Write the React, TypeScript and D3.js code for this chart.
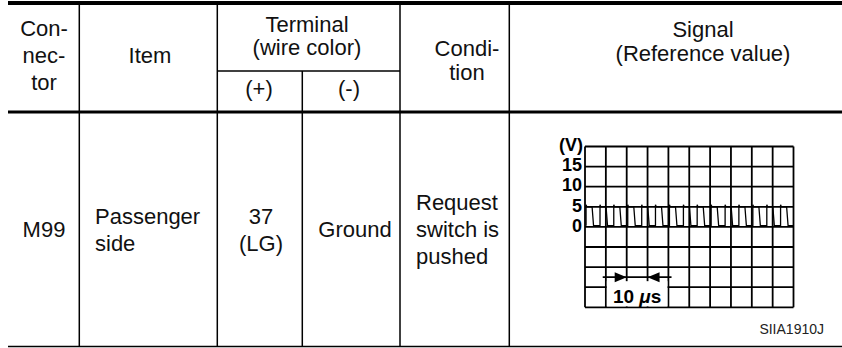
import React from 'react';
import * as d3 from 'd3';

// header texts
const connectorHead = ['Con-', 'nec-', 'tor'];
const itemHead = ['Item'];
const terminalHead = ['Terminal', '(wire color)'];
const plusMinusHead = ['(+)', '(-)'];
const conditionHead = ['Condi-', 'tion'];
const signalHead = ['Signal', '(Reference value)'];

// body row
const connector = ['M99'];
const item = ['Passenger', 'side'];
const terminalPlus = ['37', '(LG)'];
const terminalMinus = ['Ground'];
const condition = ['Request', 'switch is', 'pushed'];

// oscilloscope
const voltTicks = ['15', '10', '5', '0'];
const voltValues = [15, 10, 5, 0];
const timePerDiv = 10; // µs
// rising edge of each pulse (µs)
const pulseStarts = [0.5, 7.2, 13.8, 20.5, 27.2, 33.8, 40.5, 47.2, 53.8, 60.5,
  67.2, 73.8, 80.5, 87.2, 93.8];
// one pulse: [dt µs, volts]
const pulseShape: [number, number][] = [[0, 0.3], [0, 5.5], [0.35, 5], [2.9, 5], [3.6, 0.3]];
const figCode = 'SIIA1910J';

const W = 842;
const H = 348;
const FONT = "'Liberation Sans', Arial, Helvetica, sans-serif";

export default function App() {
  // table layout
  const left = 8;
  const right = 842;
  const colX = [79.3, 217.3, 302.3, 400, 509.3];
  const topY = 3;
  const subY = 71;
  const headY = 112;
  const botY = 346.5;

  // scope scales
  const x = d3.scaleLinear().domain([0, 100]).range([585, 793.5]);
  const y = d3.scaleLinear().domain([-20, 20]).range([307.3, 146.5]);

  const pts: [number, number][] = [];
  pulseStarts.forEach((t0) => pulseShape.forEach(([dt, v]) => pts.push([t0 + dt, v])));
  pts.push([100, 0.3]);
  const trace = d3.line<[number, number]>().x((d) => x(d[0])).y((d) => y(d[1]))(pts) || '';

  const lines = (arr: string[], cx: number, y0: number, step: number, anchor = 'middle') =>
    arr.map((s, i) => (
      <text key={s + i} x={cx} y={y0 + i * step} textAnchor={anchor}>{s}</text>
    ));

  const arrowY = y(-12.5);
  const a1 = x(20);
  const a2 = x(30);
  const head = 12;
  const hw = 5;

  return (
    <svg width={W} height={H} style={{ position: 'absolute', left: 0, top: 0, background: '#fff' }}>
      <rect width={W} height={H} fill="#fff" />
      {/* table rules */}
      <line x1={left} x2={right} y1={topY} y2={topY} stroke="#000" strokeWidth={4} />
      <line x1={left} x2={right} y1={headY} y2={headY} stroke="#000" strokeWidth={3.2} />
      <line x1={colX[1]} x2={colX[3]} y1={subY} y2={subY} stroke="#000" strokeWidth={1.5} />
      <line x1={left} x2={right} y1={botY} y2={botY} stroke="#000" strokeWidth={1.5} />
      {colX.map((cx, i) => (
        <line key={i} x1={cx} x2={cx} y1={i === 2 ? subY : topY} y2={botY} stroke="#000" strokeWidth={1.5} />
      ))}

      <g fontFamily={FONT} fontSize={22} fill="#111">
        {lines(connectorHead, 44, 36, 27)}
        {lines(itemHead, 150, 63, 27)}
        {lines(terminalHead, 307, 31.5, 23)}
        <text x={259} y={96} textAnchor="middle">{plusMinusHead[0]}</text>
        <text x={349} y={96} textAnchor="middle">{plusMinusHead[1]}</text>
        {lines(conditionHead, 467, 56, 24)}
        {lines(signalHead, 703, 37, 24)}

        {lines(connector, 44, 237, 27)}
        {lines(item, 95, 223.5, 27, 'start')}
        {lines(terminalPlus, 261, 223.5, 27)}
        {lines(terminalMinus, 355, 237, 27)}
        {lines(condition, 416, 210, 27, 'start')}
      </g>

      {/* scope grid */}
      <g stroke="#000" strokeWidth={1.8}>
        {x.ticks(100 / timePerDiv).map((t) => (
          <line key={'v' + t} x1={x(t)} x2={x(t)} y1={y(20)} y2={y(-20)} />
        ))}
        {y.ticks(8).map((v) => (
          <line key={'h' + v} x1={x(0)} x2={x(100)} y1={y(v)} y2={y(v)} />
        ))}
      </g>
      <path d={trace} fill="none" stroke="#000" strokeWidth={1.3} />

      {/* 10 µs marker */}
      <rect x={x(10) + 1} y={y(-13.5)} width={x(40) - x(10) - 2} height={y(-20) - y(-13.5) - 1} fill="#fff" />
      <line x1={x(8.5)} x2={x(41.5)} y1={arrowY} y2={arrowY} stroke="#000" strokeWidth={1.6} />
      <path d={`M${a1},${arrowY}L${a1 - head},${arrowY - hw}L${a1 - head},${arrowY + hw}Z`} fill="#000" />
      <path d={`M${a2},${arrowY}L${a2 + head},${arrowY - hw}L${a2 + head},${arrowY + hw}Z`} fill="#000" />
      <text x={(x(10) + x(40)) / 2} y={303} textAnchor="middle" fontFamily={FONT} fontWeight="bold" fontSize={19}>
        10 <tspan fontStyle="italic">μ</tspan>s
      </text>

      {/* voltage labels */}
      <g fontFamily={FONT} fontWeight="bold" fontSize={18} textAnchor="end">
        <text x={583} y={y(20)} dominantBaseline="middle">(V)</text>
        {voltTicks.map((s, i) => (
          <text key={s} x={582} y={y(voltValues[i])} dominantBaseline="middle">{s}</text>
        ))}
      </g>

      <text x={824} y={334} textAnchor="end" fontFamily={FONT} fontSize={14} fill="#222">{figCode}</text>
    </svg>
  );
}
